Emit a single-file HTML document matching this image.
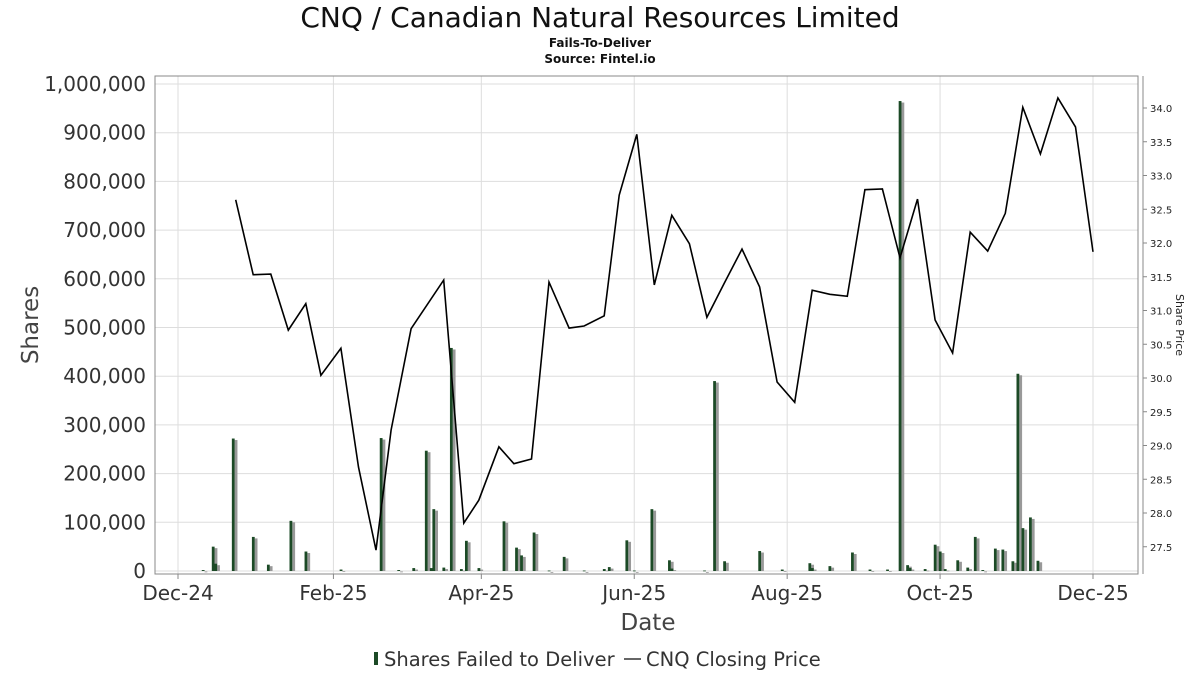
<!DOCTYPE html>
<html><head><meta charset="utf-8">
<style>
html,body{margin:0;padding:0;background:#fff;}
svg{display:block;font-family:"DejaVu Sans","Liberation Sans",sans-serif;}
</style></head>
<body>
<svg id="chart" width="1200" height="675" viewBox="0 0 1200 675" xmlns="http://www.w3.org/2000/svg">
<text x="600" y="27" text-anchor="middle" font-size="28" fill="#111">CNQ / Canadian Natural Resources Limited</text>
<text x="600" y="47" text-anchor="middle" font-size="12" font-weight="bold" fill="#111">Fails-To-Deliver</text>
<text x="600" y="63" text-anchor="middle" font-size="12" font-weight="bold" fill="#111">Source: Fintel.io</text>
<g id="grid"></g>
<g id="bars"></g>
<path id="priceLine" fill="none" stroke="#000" stroke-width="1.6"/>
<rect x="155" y="76" width="983" height="498" fill="none" stroke="#888" stroke-width="1"/>
<line x1="1143" y1="76" x2="1143" y2="574" stroke="#888"/>
<g id="axes"></g>
<text x="648" y="630" text-anchor="middle" font-size="23" fill="#444">Date</text>
<text transform="translate(38,325) rotate(-90)" text-anchor="middle" font-size="23" fill="#444">Shares</text>
<text transform="translate(1176,325) rotate(90)" text-anchor="middle" font-size="11" fill="#222">Share Price</text>
<g>
<rect x="374" y="652" width="4" height="13" fill="#1c4a26"/>
<text x="384" y="666" font-size="19.5" fill="#333">Shares Failed to Deliver</text>
<line x1="624" y1="659" x2="641" y2="659" stroke="#333" stroke-width="1.5"/>
<text x="646" y="666" font-size="19.5" fill="#333">CNQ Closing Price</text>
</g>
</svg>
<script>
// days since 2024-12-01
const barDays=[10,14,15,22,30,36,45,51,65,81,88,94,99,101,102,106,109,113,115,120,130,135,137,142,148,154,162,170,172,179,182,189,196,197,210,214,218,232,241,252,253,260,269,276,283,288,291,292,298,302,304,306,311,315,318,321,326,329,333,335,337,340,343];
const barValues=[2000,50000,15000,272000,70000,13000,103000,40000,3000,273000,2000,6000,247000,6000,127000,7000,458000,4000,62000,6000,102000,48000,32000,79000,1000,29000,1000,4000,8000,63000,1000,127000,22000,5000,1000,390000,20000,41000,3000,16000,6000,10000,38000,3000,3000,965000,12000,6000,4000,54000,40000,4000,22000,7000,70000,2000,46000,44000,20000,405000,88000,110000,21000];
const priceDays=[23,30,37,44,51,57,65,72,79,85,93,106,114,120,128,134,141,148,156,162,170,176,183,190,197,204,211,218,225,232,239,246,253,260,267,274,281,288,295,302,309,316,323,330,337,344,351,358,365];
const priceValues=[32.64,31.53,31.54,30.71,31.10,30.04,30.44,28.68,27.45,29.23,30.73,31.45,27.85,28.19,28.98,28.73,28.80,31.42,30.74,30.77,30.92,32.71,33.61,31.38,32.41,31.99,30.90,31.41,31.91,31.35,29.94,29.64,31.30,31.24,31.21,32.79,32.80,31.78,32.65,30.86,30.37,32.16,31.88,32.44,34.01,33.32,34.15,33.72,31.87];
const yTicks=[0,100000,200000,300000,400000,500000,600000,700000,800000,900000,1000000];
const priceTicks=[27.5,28.0,28.5,29.0,29.5,30.0,30.5,31.0,31.5,32.0,32.5,33.0,33.5,34.0];
const xTickLabels=["Dec-24","Feb-25","Apr-25","Jun-25","Aug-25","Oct-25","Dec-25"];
const xTickDays=[0,62,121,182,243,304,365];

const NS="http://www.w3.org/2000/svg";
const xScale=d=>178+d*(1093-178)/365;
const yScale=v=>571-v*(487/1000000);
const pScale=p=>108+(34-p)*67.5;
function mk(tag,attrs,parent){const e=document.createElementNS(NS,tag);for(const k in attrs)e.setAttribute(k,attrs[k]);parent.appendChild(e);return e;}
const grid=document.getElementById('grid'),axes=document.getElementById('axes'),bars=document.getElementById('bars');
yTicks.forEach((v,i)=>{
  const y=yScale(v);
  const g=mk('line',{x1:155,x2:1138,y1:y,y2:y,stroke:'#ddd','stroke-width':1},grid);
  
  
  const t=mk('text',{x:146,y:y+7,'text-anchor':'end','font-size':20,fill:'#333'},axes);
  
  
  t.textContent=v.toLocaleString('en-US');
});
xTickDays.forEach((d,i)=>{
  const x=xScale(d);
  const g=mk('line',{x1:x,x2:x,y1:76,y2:574,stroke:'#ddd','stroke-width':1},grid);
  
  
  const tk=mk('line',{x1:x,x2:x,y1:574,y2:579,stroke:'#888'},axes);
  
  
  const t=mk('text',{x:x,y:600,'text-anchor':'middle','font-size':20,fill:'#333'},axes);
  
  
  t.textContent=xTickLabels[i];
});
priceTicks.forEach(p=>{
  const y=pScale(p);
  const tk=mk('line',{x1:1143,x2:1147,y1:y,y2:y,stroke:'#888'},axes);
  
  
  const t=mk('text',{x:1150,y:y+4,'font-size':10,fill:'#222'},axes);
  
  
  t.textContent=p.toFixed(1);
});
barDays.forEach((d,i)=>{
  const x=xScale(d),y=yScale(barValues[i]),h=571-y;
  const s=mk('rect',{x:x+1.5,y:y+1.5,width:2.8,height:Math.max(h-1.5,0.8),fill:'#999'},bars);
  
  
  const b=mk('rect',{x:x-1.3,y:y,width:2.8,height:Math.max(h,0.8),fill:'#1c4a26'},bars);
  
  
});
document.getElementById('priceLine').setAttribute('d',priceDays.map((d,i)=>(i?'L':'M')+xScale(d).toFixed(1)+','+pScale(priceValues[i]).toFixed(1)).join(' '));
</script>
</body></html>
